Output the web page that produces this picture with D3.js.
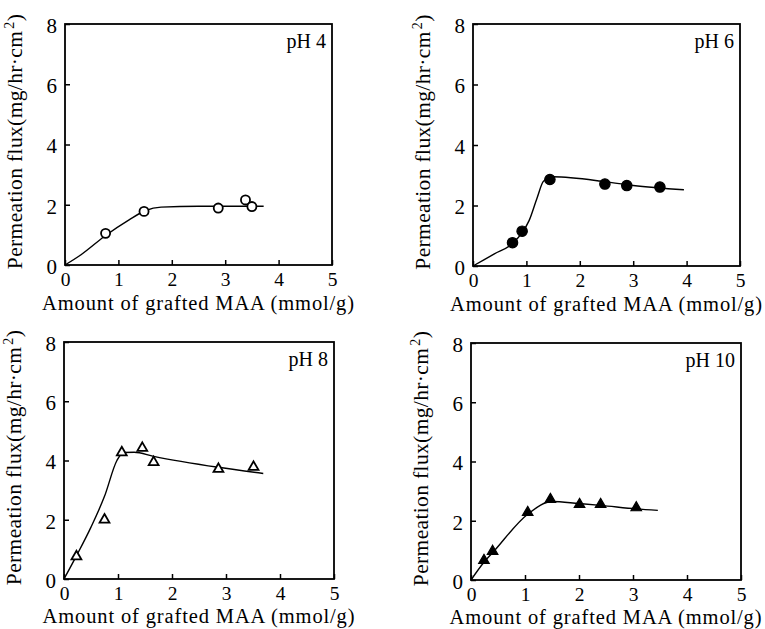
<!DOCTYPE html>
<html><head><meta charset="utf-8">
<script src="https://cdn.jsdelivr.net/npm/d3@7"></script>
<style>body{margin:0;background:#fff}svg{display:block}svg text{font-family:"Liberation Serif","Times New Roman",Times,"DejaVu Serif",serif !important;fill:#000}</style>
</head><body><svg id="c" width="765" height="629"></svg>
<script>
// ---- data ----
const xTicks = [0, 1, 2, 3, 4, 5];
const yTicks = [0, 2, 4, 6, 8];
const xTitle = "Amount of grafted MAA (mmol/g)";
const yTitle = "Permeation flux(mg/hr\u00b7cm";
const panelLabels = ["pH 4", "pH 6", "pH 8", "pH 10"];
const markerTypes = ["openCircle", "filledCircle", "openTriangle", "filledTriangle"];

const ph4X = [0.76, 1.48, 2.87, 3.38, 3.50];
const ph4Y = [1.05, 1.78, 1.89, 2.16, 1.94];
const ph4LineX = [0, 0.3, 0.76, 1.2, 1.5, 1.8, 2.5, 3.72];
const ph4LineY = [0, 0.34, 0.98, 1.5, 1.8, 1.92, 1.95, 1.95];

const ph6X = [0.74, 0.92, 1.44, 2.47, 2.88, 3.50];
const ph6Y = [0.77, 1.15, 2.86, 2.71, 2.66, 2.61];
const ph6LineX = [0, 0.4, 0.74, 0.92, 1.05, 1.2, 1.32, 1.5, 2.5, 3.0, 3.95];
const ph6LineY = [0, 0.4, 0.74, 1.1, 1.5, 2.25, 2.8, 2.95, 2.78, 2.66, 2.52];

const ph8X = [0.23, 0.75, 1.07, 1.45, 1.66, 2.86, 3.51];
const ph8Y = [0.76, 2.0, 4.27, 4.42, 3.94, 3.71, 3.78];
const ph8LineX = [0, 0.23, 0.5, 0.75, 0.98, 1.1, 1.3, 1.66, 2.86, 3.69];
const ph8LineY = [0, 0.78, 1.75, 2.79, 4.0, 4.27, 4.28, 4.14, 3.77, 3.56];

const ph10X = [0.24, 0.40, 1.05, 1.47, 2.01, 2.40, 3.06];
const ph10Y = [0.66, 0.97, 2.28, 2.72, 2.55, 2.55, 2.44];
const ph10LineX = [0, 0.24, 0.40, 1.05, 1.5, 2.0, 2.4, 3.06, 3.46];
const ph10LineY = [0, 0.6, 0.92, 2.22, 2.65, 2.58, 2.52, 2.4, 2.35];

const seriesX = [ph4X, ph6X, ph8X, ph10X];
const seriesY = [ph4Y, ph6Y, ph8Y, ph10Y];
const linesX = [ph4LineX, ph6LineX, ph8LineX, ph10LineX];
const linesY = [ph4LineY, ph6LineY, ph8LineY, ph10LineY];

// ---- layout ----
const frames = [
  {l: 65, r: 332, t: 24, b: 265, tb: 45},
  {l: 473, r: 740, t: 24, b: 266, tb: 45},
  {l: 64, r: 334, t: 342, b: 579, tb: 44},
  {l: 471, r: 741, t: 343, b: 580, tb: 43.5}
];
const FONT = '"Liberation Serif","Times New Roman",Times,"DejaVu Serif",serif';

const svg = d3.select("#c");

function fitSpacing(textSel, target) {
  const n = textSel.text().length;
  const w = textSel.node().getComputedTextLength();
  textSel.attr("letter-spacing", ((target - w) / Math.max(n - 1, 1)).toFixed(3));
}

frames.forEach((f, i) => {
  const x = d3.scaleLinear().domain([0, 5]).range([f.l, f.r]);
  const y = d3.scaleLinear().domain([0, 8]).range([f.b, f.t]);
  const g = svg.append("g");

  // ticks (inward)
  const xa = g.append("g").attr("transform", `translate(0,${f.b})`)
    .call(d3.axisBottom(x).tickValues(xTicks).tickSizeInner(-5).tickSizeOuter(0).tickPadding(8).tickFormat(d3.format("d")));
  xa.attr("font-family", FONT);
  xa.select(".domain").remove();
  xa.selectAll("line").attr("stroke", "#000").attr("stroke-width", 1.5);
  xa.selectAll("text").attr("font-size", 19.5).attr("dy", "0.68em").style("font-family", FONT);

  const ya = g.append("g").attr("transform", `translate(${f.l},0)`)
    .call(d3.axisLeft(y).tickValues(yTicks).tickSizeInner(-5).tickSizeOuter(0).tickPadding(8).tickFormat(d3.format("d")));
  ya.attr("font-family", FONT);
  ya.select(".domain").remove();
  ya.selectAll("line").attr("stroke", "#000").attr("stroke-width", 1.5);
  ya.selectAll("text").attr("font-size", 21).attr("dy", "0.4em").style("font-family", FONT);

  // frame
  g.append("rect").attr("x", f.l).attr("y", f.t).attr("width", f.r - f.l).attr("height", f.b - f.t)
    .attr("fill", "none").attr("stroke", "#000").attr("stroke-width", 1.8);

  // fitted line
  const pts = linesX[i].map((v, k) => [v, linesY[i][k]]);
  g.append("path").datum(pts)
    .attr("d", d3.line().x(d => x(d[0])).y(d => y(d[1])).curve(d3.curveMonotoneX))
    .attr("fill", "none").attr("stroke", "#000").attr("stroke-width", 1.4);

  // markers
  const data = seriesX[i].map((v, k) => [v, seriesY[i][k]]);
  const type = markerTypes[i];
  const filled = type.startsWith("filled");
  const isCircle = type.endsWith("Circle");
  const sym = isCircle ? d3.symbolCircle : d3.symbolTriangle;
  const size = isCircle ? (filled ? 85 : 65) : (filled ? 48 : 42);
  g.selectAll("path.m").data(data).join("path").attr("class", "m")
    .attr("transform", d => `translate(${x(d[0])},${y(d[1])})`)
    .attr("d", d3.symbol().type(sym).size(size))
    .attr("fill", filled ? "#000" : "#fff")
    .attr("stroke", "#000").attr("stroke-width", filled ? 1.2 : 1.8).attr("stroke-linejoin", "miter");

  // panel label
  g.append("text").attr("x", f.r - 6).attr("y", f.t + 24).attr("text-anchor", "end")
    .style("font-family", FONT).attr("font-size", 20).text(panelLabels[i]);

  // x title, centred under the plot
  const xt = g.append("text").attr("x", (f.l + f.r) / 2).attr("y", f.b + f.tb).attr("text-anchor", "middle")
    .style("font-family", FONT).attr("font-size", 20.5).text(xTitle);
  fitSpacing(xt, 312);

  // y title
  const yt = g.append("text").attr("transform", `translate(${f.l - 43},${(f.t + f.b) / 2 - 3}) rotate(-90)`)
    .attr("text-anchor", "middle").style("font-family", FONT).attr("font-size", 21.5);
  yt.append("tspan").text(yTitle);
  yt.append("tspan").attr("font-size", 14).attr("dy", -8).attr("dx", 2).text("2");
  yt.append("tspan").attr("dy", 8).text(")");
  const w = yt.node().getComputedTextLength();
  const ls = (253 - w) / (yTitle.length + 1);
  yt.attr("letter-spacing", ls.toFixed(3));
});
</script></body></html>
